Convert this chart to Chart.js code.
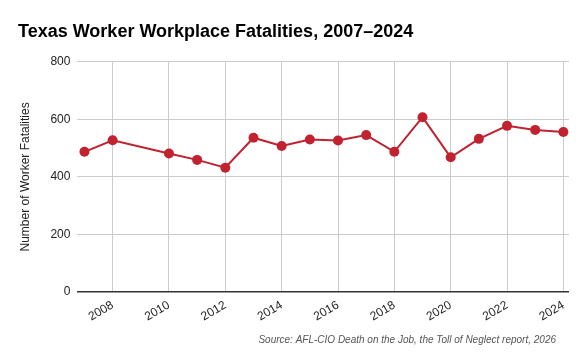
<!DOCTYPE html>
<html>
<head>
<meta charset="utf-8">
<script src="https://cdn.jsdelivr.net/npm/chart.js@4"></script>
<style>
  html, body { margin: 0; padding: 0; background: #fff; }
  #wrap { width: 588px; height: 364px; position: relative; }
</style>
</head>
<body>
<div id="wrap"><canvas id="fatalChart"></canvas></div>
<script>
// data
const years = [2007, 2008, 2010, 2011, 2012, 2013, 2014, 2015, 2016, 2017, 2018, 2019, 2020, 2021, 2022, 2023, 2024];
const fatalities = [487, 527, 481, 459, 432, 536, 507, 530, 526, 545, 487, 607, 468, 532, 577, 563, 556];
const xTicks = [2008, 2010, 2012, 2014, 2016, 2018, 2020, 2022, 2024];
const yTicks = [0, 200, 400, 600, 800];
const sourceNote = 'Source: AFL-CIO Death on the Job, the Toll of Neglect report, 2026';

(function () {
    const canvas = document.getElementById('fatalChart');
    const ctx = canvas.getContext('2d');
    const font = "'Liberation Sans', Arial, sans-serif";
    const red = '#c1222f';

    const points = years.map((y, i) => ({ x: y, y: fatalities[i] }));

    // source line, bottom right under the axis labels
    const sourcePlugin = {
        id: 'sourceNote',
        afterDraw(chart) {
            const c = chart.ctx;
            c.save();
            c.font = 'italic 10px ' + font;
            c.fillStyle = '#555';
            c.textAlign = 'right';
            c.textBaseline = 'middle';
            c.fillText(sourceNote, 556, 340);
            c.restore();
        }
    };

    new Chart(ctx, {
        type: 'line',
        data: {
            datasets: [{
                label: 'Fatalities',
                data: points,
                borderColor: red,
                backgroundColor: red,
                borderWidth: 2,
                pointRadius: 5,
                pointHoverRadius: 5,
                pointBorderWidth: 0,
                tension: 0
            }]
        },
        plugins: [sourcePlugin],
        options: {
            responsive: true,
            maintainAspectRatio: false,
            animation: false,
            layout: { padding: { left: 18, right: 19, top: 15, bottom: 34 } },
            plugins: {
                legend: { display: false },
                tooltip: { enabled: false },
                title: {
                    display: true,
                    text: 'Texas Worker Workplace Fatalities, 2007\u20132024',
                    align: 'start',
                    color: '#000',
                    font: { family: font, size: 18, weight: 'bold' },
                    padding: { top: 6, bottom: 19 }
                }
            },
            scales: {
                x: {
                    type: 'linear',
                    min: 2006.75,
                    max: 2024.2,
                    afterBuildTicks: axis => { axis.ticks = xTicks.map(v => ({ value: v })); },
                    grid: { color: '#cccccc', drawTicks: false },
                    border: { display: false },
                    ticks: {
                        color: '#222',
                        font: { family: font, size: 12 },
                        minRotation: 30,
                        maxRotation: 30,
                        padding: 6,
                        callback: v => String(v)
                    }
                },
                y: {
                    min: 0,
                    max: 800,
                    afterBuildTicks: axis => { axis.ticks = yTicks.map(v => ({ value: v })); },
                    grid: {
                        color: c => c.tick && c.tick.value === 0 ? '#333333' : '#cccccc',
                        lineWidth: c => c.tick && c.tick.value === 0 ? 1.5 : 1,
                        drawTicks: false
                    },
                    border: { display: false },
                    ticks: {
                        color: '#222',
                        font: { family: font, size: 12 },
                        padding: 7
                    },
                    title: {
                        display: true,
                        text: 'Number of Worker Fatalities',
                        color: '#222',
                        font: { family: font, size: 12 },
                        padding: { top: 0, bottom: 11 }
                    }
                }
            }
        }
    });
})();
</script>
</body>
</html>
